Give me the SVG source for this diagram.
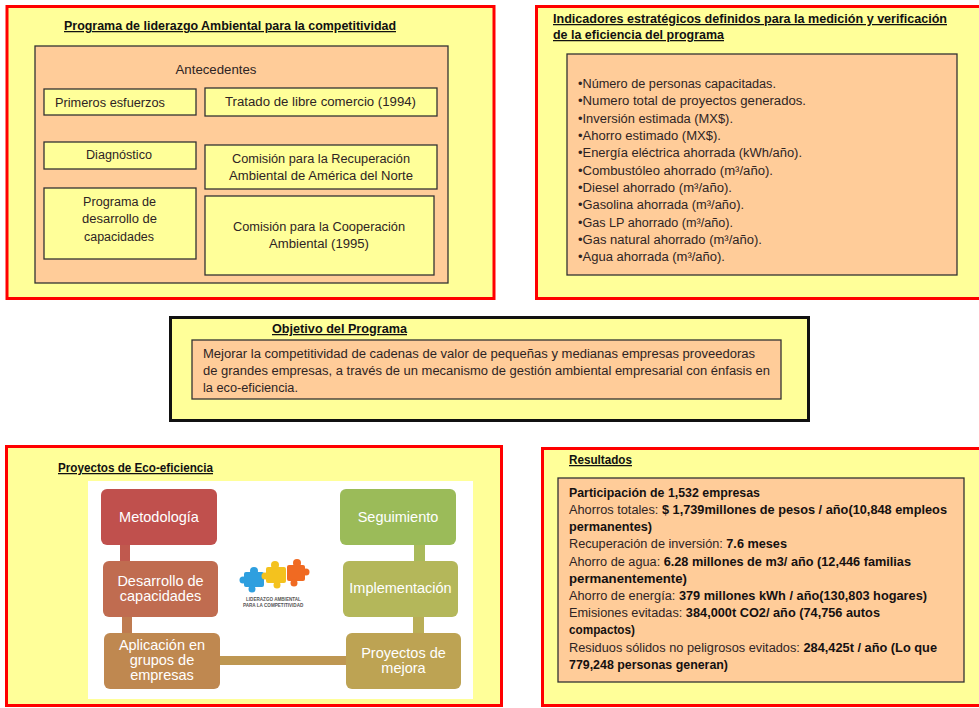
<svg xmlns="http://www.w3.org/2000/svg" width="979" height="708" viewBox="0 0 979 708">
<defs>
<style>
.bg{fill:#ffffff}
.panel{fill:#FFFF99;stroke:#FF0000;stroke-width:3}
.panelk{fill:#FFFF99;stroke:#111111;stroke-width:3}
.inner{fill:#FFCC99;stroke:#333333;stroke-width:1.3}
.box{fill:#FFFF99;stroke:#333333;stroke-width:1.3}
.t{font-family:"Liberation Sans",Arial,sans-serif;font-size:12.5px;fill:#2e2424}
.h{font-weight:bold;text-decoration:underline;fill:#111111}
.b{font-weight:bold;fill:#151010}
.c{text-anchor:middle}
.flow{font-family:"Liberation Sans",Arial,sans-serif;font-size:14.5px;fill:#ffffff;text-anchor:middle}
.logo{font-family:"Liberation Sans",Arial,sans-serif;font-size:4.6px;font-weight:bold;fill:#555555}
</style>
</defs>
<rect class="bg" x="0" y="0" width="979" height="708"/>

<!-- Top-left panel -->
<g id="programa-liderazgo">
<rect class="panel" x="7" y="6.5" width="487" height="292"/>
<text class="t h" x="64" y="30" textLength="332" lengthAdjust="spacingAndGlyphs">Programa de liderazgo Ambiental para la competitividad</text>
<rect class="inner" x="35" y="46" width="413" height="237"/>
<text class="t c" x="216" y="74" textLength="81" lengthAdjust="spacingAndGlyphs">Antecedentes</text>
</g>
<g id="primeros-esfuerzos">
<rect class="box" x="44" y="89" width="152" height="26"/>
<text class="t" x="55" y="107" textLength="110" lengthAdjust="spacingAndGlyphs">Primeros esfuerzos</text>
</g>
<g id="tratado">
<rect class="box" x="205" y="88" width="232" height="28"/>
<text class="t c" x="320.5" y="106" textLength="191" lengthAdjust="spacingAndGlyphs">Tratado de libre comercio (1994)</text>
</g>
<g id="diagnostico">
<rect class="box" x="44" y="142" width="152" height="27"/>
<text class="t c" x="119" y="159" textLength="66" lengthAdjust="spacingAndGlyphs">Diagnóstico</text>
</g>
<g id="comision-recuperacion">
<rect class="box" x="205" y="145" width="232" height="44"/>
<text class="t c" x="321" y="163" textLength="178" lengthAdjust="spacingAndGlyphs">Comisión para la Recuperación</text>
<text class="t c" x="321" y="180" textLength="184" lengthAdjust="spacingAndGlyphs">Ambiental de América del Norte</text>
</g>
<g id="programa-desarrollo">
<rect class="box" x="44" y="188" width="152" height="71"/>
<text class="t c" x="119.5" y="206" textLength="73" lengthAdjust="spacingAndGlyphs">Programa de</text>
<text class="t c" x="119.5" y="223" textLength="75" lengthAdjust="spacingAndGlyphs">desarrollo de</text>
<text class="t c" x="119" y="241" textLength="70" lengthAdjust="spacingAndGlyphs">capacidades</text>
</g>
<g id="comision-cooperacion">
<rect class="box" x="205" y="196" width="229" height="79"/>
<text class="t c" x="319" y="231" textLength="172" lengthAdjust="spacingAndGlyphs">Comisión para la Cooperación</text>
<text class="t c" x="319" y="248" textLength="100" lengthAdjust="spacingAndGlyphs">Ambiental (1995)</text>
</g>

<!-- Top-right panel -->
<g id="indicadores">
<rect class="panel" x="536.5" y="6.5" width="460" height="292"/>
<text class="t h" x="553" y="23" textLength="394" lengthAdjust="spacingAndGlyphs">Indicadores estratégicos definidos para la medición y verificación</text>
<text class="t h" x="553" y="39" textLength="171" lengthAdjust="spacingAndGlyphs">de  la eficiencia del programa</text>
<rect class="inner" x="567" y="54" width="390" height="221"/>
<text class="t" x="578" y="88" textLength="198" lengthAdjust="spacingAndGlyphs">•Número de personas capacitadas.</text>
<text class="t" x="578" y="105" textLength="228" lengthAdjust="spacingAndGlyphs">•Numero total de proyectos generados.</text>
<text class="t" x="578" y="123" textLength="155" lengthAdjust="spacingAndGlyphs">•Inversión estimada (MX$).</text>
<text class="t" x="578" y="140" textLength="143" lengthAdjust="spacingAndGlyphs">•Ahorro estimado (MX$).</text>
<text class="t" x="578" y="157" textLength="224" lengthAdjust="spacingAndGlyphs">•Energía eléctrica ahorrada (kWh/año).</text>
<text class="t" x="578" y="175" textLength="195" lengthAdjust="spacingAndGlyphs">•Combustóleo ahorrado (m³/año).</text>
<text class="t" x="578" y="192" textLength="154" lengthAdjust="spacingAndGlyphs">•Diesel ahorrado (m³/año).</text>
<text class="t" x="578" y="209" textLength="166" lengthAdjust="spacingAndGlyphs">•Gasolina ahorrada (m³/año).</text>
<text class="t" x="578" y="227" textLength="155" lengthAdjust="spacingAndGlyphs">•Gas LP ahorrado (m³/año).</text>
<text class="t" x="578" y="244" textLength="184" lengthAdjust="spacingAndGlyphs">•Gas natural ahorrado (m³/año).</text>
<text class="t" x="578" y="261" textLength="147" lengthAdjust="spacingAndGlyphs">•Agua ahorrada (m³/año).</text>
</g>

<!-- Middle panel -->
<g id="objetivo">
<rect class="panelk" x="170.5" y="317.5" width="638" height="103"/>
<text class="t h" x="272" y="333" textLength="135" lengthAdjust="spacingAndGlyphs">Objetivo del  Programa</text>
<rect class="inner" x="192" y="340" width="589" height="59"/>
<text class="t" x="203" y="358" textLength="552" lengthAdjust="spacingAndGlyphs">Mejorar la competitividad de cadenas de valor de pequeñas y medianas  empresas proveedoras</text>
<text class="t" x="203" y="375" textLength="567" lengthAdjust="spacingAndGlyphs">de grandes empresas, a través de un mecanismo de gestión ambiental  empresarial con énfasis en</text>
<text class="t" x="203" y="392" textLength="95" lengthAdjust="spacingAndGlyphs">la eco-eficiencia.</text>
</g>

<!-- Bottom-left panel -->
<g id="proyectos-eco">
<rect class="panel" x="6.5" y="446.5" width="495" height="259"/>
<text class="t h" x="58" y="472" textLength="155" lengthAdjust="spacingAndGlyphs">Proyectos de Eco-eficiencia</text>
<rect x="88" y="481" width="385" height="218" fill="#ffffff"/>
</g>
<g id="connectors">
<rect x="120" y="544" width="10" height="18" fill="#C0594E"/>
<rect x="122" y="616" width="10" height="18" fill="#BF7B50"/>
<rect x="219" y="656" width="128" height="9" fill="#BE9752"/>
<rect x="413" y="616" width="11" height="18" fill="#B9AE57"/>
<rect x="414" y="544" width="11" height="18" fill="#A9BA5A"/>
</g>
<g id="metodologia">
<rect x="101" y="489" width="116" height="56" rx="6" fill="#C0504D"/>
<text class="flow" x="159" y="522">Metodología</text>
</g>
<g id="desarrollo-capacidades">
<rect x="103" y="561" width="115" height="56" rx="6" fill="#C06C50"/>
<text class="flow" x="160.5" y="586">Desarrollo de</text>
<text class="flow" x="160.5" y="601">capacidades</text>
</g>
<g id="aplicacion">
<rect x="104" y="633" width="116" height="56" rx="6" fill="#BF8850"/>
<text class="flow" x="162" y="650">Aplicación en</text>
<text class="flow" x="162" y="665">grupos de</text>
<text class="flow" x="162" y="680">empresas</text>
</g>
<g id="proyectos-mejora">
<rect x="346" y="633" width="115" height="56" rx="6" fill="#BDA353"/>
<text class="flow" x="403.5" y="658">Proyectos de</text>
<text class="flow" x="403.5" y="673">mejora</text>
</g>
<g id="implementacion">
<rect x="343" y="561" width="115" height="56" rx="6" fill="#B4B75A"/>
<text class="flow" x="400.5" y="593">Implementación</text>
</g>
<g id="seguimiento">
<rect x="340" y="489" width="116" height="56" rx="6" fill="#9BBB59"/>
<text class="flow" x="398" y="522">Seguimiento</text>
</g>
<g id="logo">
<rect x="244" y="572" width="20" height="15" rx="2" fill="#2E9FDF"/>
<circle cx="254" cy="571" r="4" fill="#2E9FDF"/>
<circle cx="243" cy="580" r="3.5" fill="#2E9FDF"/>
<circle cx="252" cy="589" r="3.5" fill="#2E9FDF"/>
<rect x="266" y="567" width="20" height="16" rx="2" fill="#F4C21E"/>
<circle cx="275" cy="565" r="4" fill="#F4C21E"/>
<circle cx="265" cy="576" r="3.5" fill="#F4C21E"/>
<circle cx="277" cy="585" r="3.5" fill="#F4C21E"/>
<rect x="287" y="565" width="18" height="16" rx="2" fill="#F06A22"/>
<circle cx="297" cy="563" r="4" fill="#F06A22"/>
<circle cx="306" cy="572" r="3.5" fill="#F06A22"/>
<circle cx="294" cy="583" r="3.5" fill="#F06A22"/>
<text class="logo" x="246" y="601">LIDERAZGO AMBIENTAL</text>
<text class="logo" x="243" y="607">PARA LA COMPETITIVIDAD</text>
</g>

<!-- Bottom-right panel -->
<g id="resultados">
<rect class="panel" x="542.5" y="448.5" width="450" height="257"/>
<text class="t h" x="569" y="464" textLength="63" lengthAdjust="spacingAndGlyphs">Resultados</text>
<rect class="inner" x="558" y="478" width="406" height="204"/>
<text class="t b" x="569" y="497" textLength="191" lengthAdjust="spacingAndGlyphs">Participación  de 1,532 empresas</text>
<text class="t" x="569" y="514" textLength="378" lengthAdjust="spacingAndGlyphs">Ahorros totales: <tspan class="b">$ 1,739millones de pesos / año(10,848 empleos</tspan></text>
<text class="t b" x="569" y="531" textLength="83" lengthAdjust="spacingAndGlyphs">permanentes)</text>
<text class="t" x="569" y="548" textLength="218" lengthAdjust="spacingAndGlyphs">Recuperación de inversión: <tspan class="b">7.6 meses</tspan></text>
<text class="t" x="569" y="566" textLength="342" lengthAdjust="spacingAndGlyphs">Ahorro de agua: <tspan class="b">6.28 millones de m3/ año (12,446 familias</tspan></text>
<text class="t b" x="569" y="583" textLength="118" lengthAdjust="spacingAndGlyphs">permanentemente)</text>
<text class="t" x="569" y="600" textLength="358" lengthAdjust="spacingAndGlyphs">Ahorro de energía: <tspan class="b">379 millones kWh  / año(130,803 hogares)</tspan></text>
<text class="t" x="569" y="617" textLength="311" lengthAdjust="spacingAndGlyphs">Emisiones evitadas:  <tspan class="b">384,000t CO2/ año (74,756 autos</tspan></text>
<text class="t b" x="569" y="634" textLength="66" lengthAdjust="spacingAndGlyphs">compactos)</text>
<text class="t" x="569" y="652" textLength="368" lengthAdjust="spacingAndGlyphs">Residuos sólidos no peligrosos evitados:  <tspan class="b">284,425t / año (Lo que</tspan></text>
<text class="t b" x="569" y="669" textLength="159" lengthAdjust="spacingAndGlyphs">779,248 personas generan)</text>
</g>
</svg>
